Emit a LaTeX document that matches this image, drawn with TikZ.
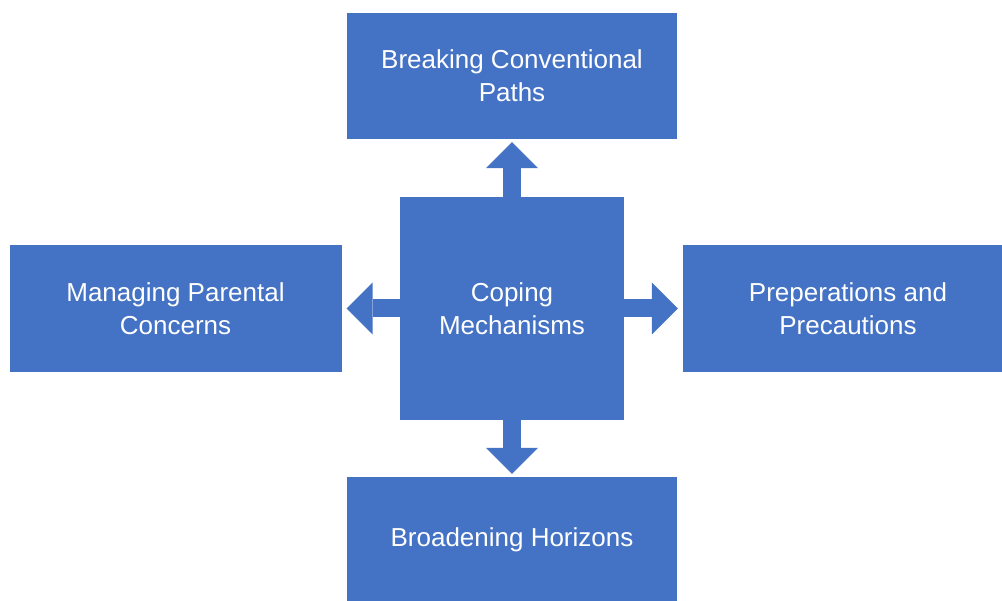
\documentclass[tikz,border=0pt]{standalone}
\usepackage{fontspec}
\setmainfont{Liberation Sans}
\usetikzlibrary{arrows.meta}
\definecolor{boxblue}{HTML}{4472C4}
\tikzset{
  box/.style={fill=boxblue, draw=none, inner sep=0pt, align=center, text=white,
    font=\fontsize{26}{33}\selectfont},
  blockarrow/.style={draw=boxblue, line width=18pt,
    -{Triangle[width=52pt,length=26pt,line width=0pt]}}
}
\begin{document}
\begin{tikzpicture}[x=1pt,y=-1pt]
\useasboundingbox (0,0) rectangle (1002,601);
\clip (0,0) rectangle (1002,601);
\fill[white] (0,0) rectangle (1002,601);
\node[box, minimum width=330pt, minimum height=126pt] (t) at (512,76) {Breaking Conventional\\Paths};
\node[box, minimum width=332pt, minimum height=127pt] (l) at (175.5,308.5) {Managing Parental\\Concerns};
\node[box, minimum width=224pt, minimum height=223pt] (c) at (512,308.5) {Coping\\Mechanisms};
\node[box, minimum width=330pt, minimum height=127pt] (r) at (848,308.5) {Preperations and\\Precautions};
\node[box, minimum width=330pt, minimum height=126pt] (b) at (512,540) {Broadening Horizons};
\draw[blockarrow] (c.north) -- ([yshift=-3pt]t.south);
\draw[blockarrow] (c.west) -- ([xshift=5pt]l.east);
\draw[blockarrow] (c.east) -- ([xshift=-5pt]r.west);
\draw[blockarrow] (c.south) -- ([yshift=3pt]b.north);
\end{tikzpicture}
\end{document}
